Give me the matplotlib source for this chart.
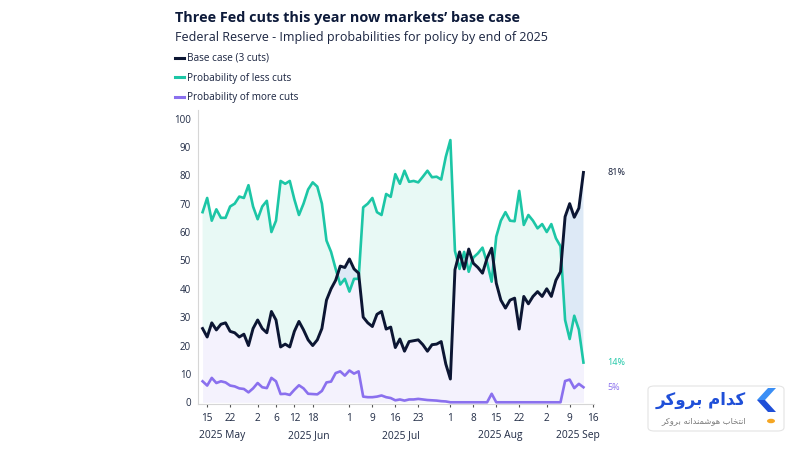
import matplotlib
matplotlib.use('Agg')
import matplotlib.pyplot as plt
import matplotlib.patches as mpatches
from matplotlib.lines import Line2D
import numpy as np
import pandas as pd

plt.rcParams['font.family'] = ['Open Sans', 'DejaVu Sans']

# US market holidays inside the window -> trading-day axis
holidays = ['2025-05-26', '2025-06-19', '2025-07-04', '2025-09-01']
cal = pd.bdate_range('2025-05-13', '2025-09-16', freq='C', holidays=holidays)

# implied probabilities (%), one value per trading day, May 14 .. Sep 12
base_case = [26, 23, 28, 25.5, 27.5, 28, 25, 24.5, 23, 24,
             20, 26, 29, 26, 24.5, 32, 29, 19.5, 20.5, 19.5,
             25, 28.5, 25.5, 22, 20, 22, 26, 36, 40, 43,
             48, 47.5, 50.5, 47, 45.5, 30, 28, 26.7, 31, 32,
             25.8, 26.5, 19.3, 22.3, 18, 21.4, 21.7, 22, 20.3, 18,
             20.3, 20.5, 21.4, 13.5, 8.2, 46.7, 53, 47, 54, 49,
             47.5, 45.5, 50.8, 54.3, 42, 36, 33.2, 36, 36.7, 25.8,
             37.3, 34.7, 37.3, 39, 37.3, 40, 37.3, 43, 46, 65.4,
             70, 65.2, 68.4, 81]
less_cuts = [67, 72, 64, 68, 65, 65, 69, 70, 72.5, 72,
             76.5, 69, 64.5, 69, 71, 60, 64, 78, 77, 78,
             71.5, 66, 70, 75, 77.5, 76, 70, 57, 53, 47,
             41.5, 43.5, 39, 43.5, 43.5, 68.7, 70, 72, 67, 66,
             73.4, 72.4, 80.4, 77, 81.6, 77.7, 78, 77.5, 79.5, 81.6,
             79.3, 79.5, 78.5, 86.5, 92.4, 53.3, 47, 53, 46, 51,
             52.5, 54.5, 49.2, 42.5, 58.4, 64, 67, 64, 63.8, 74.5,
             62.5, 66, 64, 61.3, 62.8, 60, 62.8, 57.8, 55, 29,
             22.3, 30.5, 25.6, 14]
more_cuts = [7.4, 5.9, 8.6, 6.8, 7.4, 7, 5.9, 5.6, 4.9, 4.7,
             3.5, 4.9, 6.8, 5.3, 5, 8.6, 7.4, 2.9, 3, 2.6,
             4.4, 6, 4.9, 3, 2.9, 2.8, 4, 7, 7.3, 10.3,
             10.9, 9.4, 11.2, 10.1, 10.9, 2, 1.8, 1.8, 2, 2.4,
             1.8, 1.5, 0.7, 1, 0.6, 1, 1, 1.2, 1, 0.8,
             0.7, 0.6, 0.4, 0.3, 0, 0, 0, 0, 0, 0,
             0, 0, 0, 3, 0, 0, 0, 0, 0, 0,
             0, 0, 0, 0, 0, 0, 0, 0, 0, 7.5,
             8, 5, 6.5, 5.3]

tick_dates = ['2025-05-15', '2025-05-22', '2025-06-02', '2025-06-06', '2025-06-12',
              '2025-06-18', '2025-07-01', '2025-07-09', '2025-07-16', '2025-07-23',
              '2025-08-01', '2025-08-08', '2025-08-15', '2025-08-22', '2025-09-02',
              '2025-09-09', '2025-09-16']
month_labels = ['2025 May', '2025 Jun', '2025 Jul', '2025 Aug', '2025 Sep']
month_pos = [5.3, 24.2, 44.3, 65.9, 82.7]

navy = '#0c1633'
teal = '#1cc6a6'
purple = '#8a70ee'

dates = cal[1:1 + len(base_case)]
x = np.array([cal.get_loc(d) for d in dates])
base = np.array(base_case)
less = np.array(less_cuts)
more = np.array(more_cuts)

fig = plt.figure(figsize=(8, 4.5), dpi=100)
ax = fig.add_axes([198 / 800, 1 - 404 / 450, 396 / 800, 294 / 450])

low = np.minimum(base, less)
ax.fill_between(x, 0, low, color='#f4f2fd', lw=0, interpolate=True)
ax.fill_between(x, base, less, where=less >= base, color='#e8f9f5', lw=0, interpolate=True)
ax.fill_between(x, base, less, where=base > less, color='#dde9f6', lw=0, interpolate=True)

ax.plot(x, more, color=purple, lw=1.9, solid_joinstyle='round')
ax.plot(x, less, color=teal, lw=1.9, solid_joinstyle='round')
ax.plot(x, base, color=navy, lw=2.1, solid_joinstyle='round')

# end labels
for vals, col in [(base, navy), (less, teal), (more, purple)]:
    ax.annotate(f'{vals[-1]:.0f}%', xy=(x[-1], vals[-1]), xytext=(17, 0),
                textcoords='offset points', va='center', ha='left',
                fontsize=6.5, color=col)

ax.set_xlim(0, 86.3)
ax.set_ylim(-0.6, 103)
ax.set_yticks(range(0, 101, 10))
ax.set_xticks([cal.get_loc(pd.Timestamp(d)) for d in tick_dates])
ax.set_xticklabels([str(pd.Timestamp(d).day) for d in tick_dates])
ax.tick_params(axis='y', length=0, pad=5, labelsize=7, labelcolor='#1f2a44')
ax.tick_params(axis='x', length=2.5, width=0.8, color='#555555', pad=4,
               labelsize=7.2, labelcolor='#1f2a44')
for m, p in zip(month_labels, month_pos):
    ax.annotate(m, xy=(p, 0), xycoords=ax.get_xaxis_transform(), xytext=(0, -22.5),
                textcoords='offset points', ha='center', va='center',
                fontsize=7.4, color='#1f2a44')

for s in ['top', 'right']:
    ax.spines[s].set_visible(False)
ax.spines['left'].set_color('#d6d6d6')
ax.spines['bottom'].set_color('#d6d6d6')
ax.set_facecolor('none')

fig.text(175 / 800, 1 - 18 / 450, 'Three Fed cuts this year now markets\u2019 base case',
         fontsize=10.4, fontweight='bold', color='#0d1a3a', va='center', ha='left')
fig.text(175 / 800, 1 - 37 / 450, 'Federal Reserve - Implied probabilities for policy by end of 2025',
         fontsize=9.0, color='#1a2440', va='center', ha='left')

handles = [Line2D([], [], color=navy, lw=2.2),
           Line2D([], [], color=teal, lw=2.2),
           Line2D([], [], color=purple, lw=2.2)]
fig.legend(handles, ['Base case (3 cuts)', 'Probability of less cuts', 'Probability of more cuts'],
           loc='upper left', bbox_to_anchor=(175 / 800, 1 - 53 / 450), frameon=False,
           fontsize=7.2, handlelength=0.85, handletextpad=0.35, labelspacing=0.85,
           borderaxespad=0, borderpad=0, labelcolor='#1a2440')

# watermark box (bottom right)
def fx(px):
    return px / 800

def fy(py):
    return 1 - py / 450

box = mpatches.FancyBboxPatch((fx(648), fy(431)), fx(784) - fx(648), fy(386) - fy(431),
                              boxstyle='round,pad=0,rounding_size=0.008',
                              transform=fig.transFigure, fc='white', ec='#e4e4e4', lw=0.8)
fig.patches.append(box)
chev_top = mpatches.Polygon([(fx(776), fy(388)), (fx(768), fy(388)), (fx(757), fy(400)),
                             (fx(765), fy(400))], closed=True, transform=fig.transFigure,
                            fc='#3a8ef5', ec='none')
chev_bot = mpatches.Polygon([(fx(757), fy(400)), (fx(765), fy(400)), (fx(776), fy(412)),
                             (fx(768), fy(412))], closed=True, transform=fig.transFigure,
                            fc='#1f4fd8', ec='none')
fig.patches.append(chev_top)
fig.patches.append(chev_bot)
dot = mpatches.Circle((fx(771), fy(421)), 4 / 800, transform=fig.transFigure,
                      fc='#f5a623', ec='none')
fig.patches.append(dot)
# Persian text, pre-shaped (presentation forms, visual order)
brand = '\uFEAE\uFB90\uFEED\uFEAE\uFE91 \uFEE1\uFE8D\uFEAA\uFB90'
slogan = ('\uFEAE\uFB90\uFEED\uFEAE\uFE91 '
          '\uFEEA\uFEE7\uFE8D\uFEAA\uFEE8\uFEE4\uFEB7\uFEEE\uFEEB '
          '\uFE8F\uFE8E\uFEA8\uFE98\uFEE7\uFE8D')
fig.text(fx(746), fy(400), brand, family=['DejaVu Sans'], fontsize=12, fontweight='bold',
         color='#1f4fd8', ha='right', va='center')
fig.text(fx(746), fy(421), slogan, family=['DejaVu Sans'], fontsize=6, color='#7a7a7a',
         ha='right', va='center')

fig.savefig('out.png', dpi=100)
